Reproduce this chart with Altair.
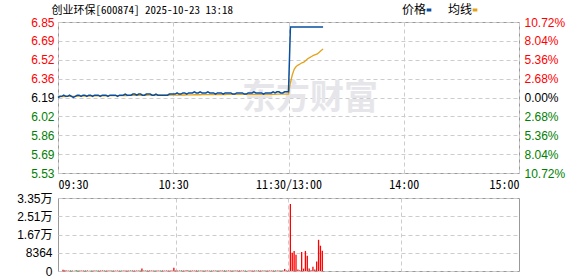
import altair as alt
import pandas as pd

PREV_CLOSE = 6.19
TITLE = "创业环保[600874] 2025-10-23 13:18"

# ---- morning session 09:30 .. 11:30 (121 points) ----
price_am = [
    6.19, 6.20, 6.20, 6.21, 6.20, 6.20, 6.21, 6.20, 6.19, 6.20,
    6.21, 6.21, 6.20, 6.21, 6.21, 6.20, 6.21, 6.21, 6.20, 6.21,
    6.21, 6.21, 6.20, 6.21, 6.21, 6.21, 6.20, 6.21, 6.21, 6.21,
    6.21, 6.20, 6.21, 6.21, 6.21, 6.22, 6.21, 6.21, 6.21, 6.22,
    6.22, 6.21, 6.22, 6.22, 6.21, 6.21, 6.22, 6.22, 6.22, 6.21,
    6.21, 6.22, 6.21, 6.21, 6.21, 6.21, 6.21, 6.21, 6.22, 6.22,
    6.22, 6.22, 6.23, 6.22, 6.22, 6.23, 6.23, 6.22, 6.23, 6.23,
    6.23, 6.24, 6.23, 6.23, 6.24, 6.23, 6.23, 6.23, 6.24, 6.23,
    6.23, 6.23, 6.22, 6.23, 6.23, 6.23, 6.22, 6.23, 6.23, 6.23,
    6.23, 6.22, 6.22, 6.23, 6.23, 6.23, 6.23, 6.22, 6.22, 6.23,
    6.23, 6.23, 6.24, 6.23, 6.23, 6.23, 6.23, 6.22, 6.23, 6.23,
    6.23, 6.23, 6.24, 6.23, 6.24, 6.24, 6.23, 6.23, 6.24, 6.24,
    6.24,
]
avg_am = [
    6.190, 6.195, 6.198, 6.199, 6.199, 6.200, 6.201, 6.201, 6.200, 6.200,
    6.201, 6.202, 6.202, 6.202, 6.203, 6.203, 6.203, 6.203, 6.204, 6.204,
    6.204, 6.204, 6.205, 6.205, 6.205, 6.205, 6.205, 6.206, 6.206, 6.206,
    6.206, 6.206, 6.206, 6.207, 6.207, 6.207, 6.207, 6.208, 6.208, 6.208,
    6.208, 6.208, 6.209, 6.209, 6.209, 6.209, 6.209, 6.210, 6.210, 6.210,
    6.210, 6.210, 6.210, 6.210, 6.210, 6.210, 6.210, 6.211, 6.211, 6.211,
    6.211, 6.211, 6.211, 6.212, 6.212, 6.212, 6.212, 6.213, 6.213, 6.213,
    6.213, 6.214, 6.214, 6.214, 6.214, 6.215, 6.215, 6.215, 6.215, 6.215,
    6.216, 6.216, 6.216, 6.216, 6.216, 6.216, 6.216, 6.216, 6.217, 6.217,
    6.217, 6.217, 6.217, 6.217, 6.217, 6.217, 6.217, 6.217, 6.217, 6.217,
    6.217, 6.217, 6.218, 6.218, 6.218, 6.218, 6.218, 6.218, 6.218, 6.218,
    6.218, 6.218, 6.218, 6.218, 6.219, 6.219, 6.219, 6.219, 6.219, 6.219,
    6.219,
]
vol_am = [
    620, 310, 240, 180, 260, 210, 170, 290, 230, 190,
    280, 180, 230, 260, 170, 220, 280, 190, 240, 180,
    230, 270, 180, 220, 260, 190, 230, 280, 170, 220,
    190, 260, 220, 180, 280, 240, 190, 260, 230, 180,
    270, 220, 1100, 280, 190, 230, 260, 180, 240, 190,
    280, 190, 230, 270, 180, 240, 280, 190, 230, 1500,
    260, 190, 230, 270, 180, 220, 300, 190, 240, 200,
    210, 280, 190, 230, 270, 180, 240, 260, 190, 220,
    270, 190, 230, 260, 180, 220, 280, 190, 240, 200,
    230, 270, 180, 220, 260, 190, 230, 280, 170, 220,
    190, 260, 220, 180, 280, 240, 190, 260, 230, 180,
    270, 220, 240, 280, 190, 230, 260, 180, 900, 240,
    220,
]
# ---- afternoon session 13:01 .. 13:18 (18 points) ----
price_pm = [6.81, 6.81, 6.81, 6.81, 6.81, 6.81, 6.81, 6.81, 6.81,
            6.81, 6.81, 6.81, 6.81, 6.81, 6.81, 6.81, 6.81, 6.81]
avg_pm = [6.320, 6.390, 6.440, 6.462, 6.475, 6.485, 6.495, 6.500, 6.515,
          6.530, 6.540, 6.550, 6.560, 6.567, 6.573, 6.588, 6.603, 6.616]
vol_pm = [30700, 8400, 9200, 7500, 700, 400, 8700, 1100, 9200,
          7000, 1100, 400, 2000, 700, 4300, 14300, 11600, 9300]

# ---- axis texts ----
x_tick_pos = [0, 60, 120, 180, 240]
x_tick_labels = ["09:30", "10:30", "11:30/13:00", "14:00", "15:00"]
pct_levels = [-10.72, -8.04, -5.36, -2.68, 0.0, 2.68, 5.36, 8.04, 10.72]
price_tick_labels = ["5.53", "5.69", "5.86", "6.02", "6.19", "6.36", "6.52", "6.69", "6.85"]
pct_tick_labels = ["10.72%", "8.04%", "5.36%", "2.68%", "0.00%", "2.68%", "5.36%", "8.04%", "10.72%"]
vol_ticks = [0, 8364, 16728, 25092, 33456]
vol_tick_labels = ["0", "8364", "1.67万", "2.51万", "3.35万"]
series_names = ["价格", "均线"]
watermark_text = ["东方财富"]

price = price_am + price_pm
avg = avg_am + avg_pm
vol = vol_am + vol_pm
df = pd.DataFrame({"idx": list(range(len(price))), "price": price, "avg": avg, "vol": vol})
prev = [PREV_CLOSE] + price[:-1]
df["dir"] = ["up" if p >= q else "down" for p, q in zip(price, prev)]

price_ticks = [PREV_CLOSE * (1 + p / 100.0) for p in pct_levels]


def expr_map(values, labels):
    parts = [f"abs(datum.value - {v!r}) < 1e-6 ? '{l}'" for v, l in zip(values, labels)]
    return " : ".join(parts) + " : ''"


BLUE = "#0a4f9e"
ORANGE = "#e3a21a"
RED = "#ff0000"
GREEN = "#008000"
GRID = "#cccccc"
DASH = [4, 3]
FONT_NUM = "Liberation Sans, Noto Sans CJK SC"
FONT_CJK = "Noto Sans Mono CJK SC, Noto Sans CJK SC"

updown_color = {
    "condition": [
        {"test": f"datum.value > {PREV_CLOSE + 0.005}", "value": RED},
        {"test": f"datum.value < {PREV_CLOSE - 0.005}", "value": GREEN},
    ],
    "value": "#000000",
}

x_scale = alt.Scale(domain=[0, 240], nice=False, zero=False)
y_scale = alt.Scale(domain=[price_ticks[0], price_ticks[-1]], nice=False, zero=False)

x_upper = alt.X(
    "idx:Q", scale=x_scale,
    axis=alt.Axis(values=x_tick_pos, labelExpr=expr_map(x_tick_pos, x_tick_labels),
                  labelFlush=True, grid=True, gridColor=GRID, gridDash=DASH,
                  domain=False, ticks=False, labelPadding=6, labelFont=FONT_CJK,
                  labelFontSize=12, labelColor="#000000", title=None),
)

color_enc = alt.Color(
    "series:N",
    scale=alt.Scale(domain=series_names, range=[BLUE, ORANGE]),
    legend=alt.Legend(orient="none", legendX=365, legendY=-18, direction="horizontal",
                      title=None, symbolType="stroke", symbolStrokeWidth=3, symbolSize=22,
                      labelFont=FONT_CJK, labelFontSize=12, labelColor="#000000",
                      labelOffset={"expr": "-33"}, columnPadding=10),
)

watermark = alt.Chart(pd.DataFrame({"t": watermark_text})).mark_text(
    font="Noto Sans CJK SC", fontSize=34, fontWeight="bold", color="#e6e6ea",
    align="center", baseline="middle",
).encode(x=alt.value(252), y=alt.value(77), text="t:N")

avg_line = alt.Chart(df).transform_calculate(series="'均线'").mark_line(strokeWidth=1.3).encode(
    x=x_upper,
    y=alt.Y("avg:Q", scale=y_scale,
            axis=alt.Axis(orient="right", values=price_ticks,
                          labelExpr=expr_map(price_ticks, pct_tick_labels),
                          labelColor=updown_color, grid=False, domain=False, ticks=False,
                          labelPadding=5, labelFont=FONT_NUM, labelFontSize=12, title=None)),
    color=color_enc,
)

price_line = alt.Chart(df).transform_calculate(series="'价格'").mark_line(strokeWidth=1.5).encode(
    x=x_upper,
    y=alt.Y("price:Q", scale=y_scale,
            axis=alt.Axis(orient="left", values=price_ticks,
                          labelExpr=expr_map(price_ticks, price_tick_labels),
                          labelColor=updown_color, grid=True, gridColor=GRID, gridDash=DASH,
                          domain=False, ticks=False, labelPadding=4, labelFont=FONT_NUM,
                          labelFontSize=12, title=None)),
    color=color_enc,
)

upper = alt.layer(watermark, avg_line, price_line).resolve_scale(y="independent").properties(
    width=461, height=151,
    title=alt.TitleParams(TITLE, anchor="start", frame="group", dx=-6.5, offset=-23,
                          font=FONT_CJK, fontSize=11, fontWeight="normal",
                          color="#000000", baseline="bottom"),
)

lower = alt.Chart(df).mark_bar(size=1.3).encode(
    x=alt.X("idx:Q", scale=x_scale,
            axis=alt.Axis(values=[60, 120, 180], labels=False, ticks=False, domain=False,
                          grid=True, gridColor=GRID, gridDash=DASH, title=None)),
    y=alt.Y("vol:Q", scale=alt.Scale(domain=[vol_ticks[0], vol_ticks[-1]], nice=False),
            axis=alt.Axis(values=vol_ticks, labelExpr=expr_map(vol_ticks, vol_tick_labels),
                          grid=True, gridColor=GRID, gridDash=DASH, domain=False, ticks=False,
                          labelPadding=6, labelFont=FONT_NUM, labelFontSize=12,
                          labelColor="#000000", title=None)),
    color=alt.Color("dir:N", scale=alt.Scale(domain=["up", "down"], range=[RED, GREEN]), legend=None),
).properties(width=461, height=73)

chart = alt.vconcat(upper, lower, spacing=0).resolve_scale(color="independent").properties(
    padding={"left": 16, "top": 3, "right": 0, "bottom": 0},
    background="white",
).configure_view(stroke="#999999", strokeWidth=1)

chart.save("out.html", embed_options={"renderer": "svg", "actions": False})
